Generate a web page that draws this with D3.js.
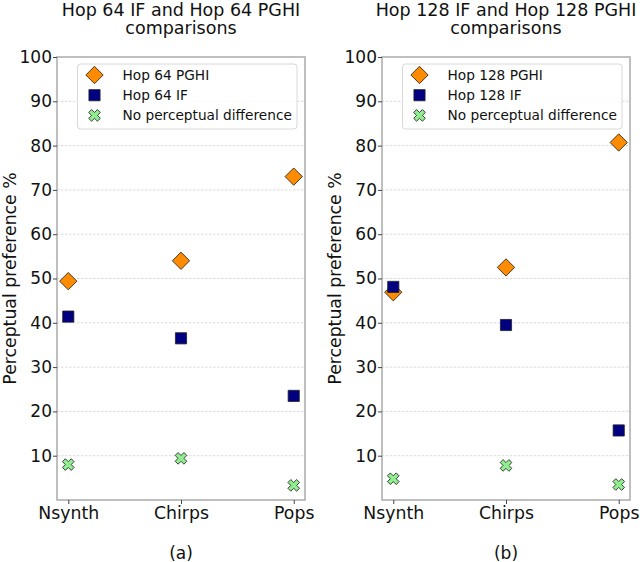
<!DOCTYPE html>
<html><head><meta charset="utf-8">
<script src="https://cdn.jsdelivr.net/npm/d3@7"></script>
<style>body{margin:0;background:#fff}svg{display:block}text{font-family:"DejaVu Sans",sans-serif}</style>
</head><body><svg id="c" width="640" height="562"></svg>
<script>
const categories = ["Nsynth", "Chirps", "Pops"];
const yTicks = [10, 20, 30, 40, 50, 60, 70, 80, 90, 100];
const titlesA = ["Hop 64 IF and Hop 64 PGHI", "comparisons"];
const titlesB = ["Hop 128 IF and Hop 128 PGHI", "comparisons"];
const seriesNamesA = ["Hop 64 PGHI", "Hop 64 IF", "No perceptual difference"];
const seriesNamesB = ["Hop 128 PGHI", "Hop 128 IF", "No perceptual difference"];
const pghiA = [49.4, 54.0, 73.0];
const ifA = [41.4, 36.5, 23.5];
const noDiffA = [8.0, 9.4, 3.3];
const pghiB = [46.9, 52.5, 80.7];
const ifB = [48.1, 39.5, 15.7];
const noDiffB = [4.8, 7.8, 3.5];
const captions = ["(a)", "(b)"];

const svg = d3.select("#c");
const colors = ["#ff8c00", "#000080", "#90ee90"];
const shapes = ["diamond", "square", "x"];

function marker(g, shape, color, x, y) {
  let p;
  if (shape === "diamond") {
    p = g.append("path").attr("d", d3.symbol(d3.symbolSquare, 150)())
      .attr("transform", `translate(${x},${y}) rotate(45)`);
  } else if (shape === "square") {
    p = g.append("path").attr("d", d3.symbol(d3.symbolSquare, 125)())
      .attr("transform", `translate(${x},${y})`);
  } else {
    p = g.append("path").attr("d", d3.symbol(d3.symbolCross, 85)())
      .attr("transform", `translate(${x},${y}) rotate(45)`);
  }
  p.attr("fill", color).attr("stroke", "#222").attr("stroke-width", 0.8);
}

function panel(x0, x1, titles, names, series, caption) {
  const top = 57, bottom = 500;
  const x = d3.scaleLinear().domain([-0.1, 2.1]).range([x0, x1]);
  const y = d3.scaleLinear().domain([0, 100]).range([bottom, top]);
  const g = svg.append("g");
  const cx = (x0 + x1) / 2;
  // grid
  g.selectAll(".grid").data(yTicks.filter(t => t < 100)).join("line")
    .attr("x1", x0).attr("x2", x1).attr("y1", d => y(d)).attr("y2", d => y(d))
    .attr("stroke", "#cfcfcf").attr("stroke-width", 0.8).attr("stroke-dasharray", "2.5,1.5");
  // frame
  g.append("rect").attr("x", x0).attr("y", top).attr("width", x1 - x0).attr("height", bottom - top)
    .attr("fill", "none").attr("stroke", "#b0b0b0").attr("stroke-width", 1.6);
  // y axis
  const ya = d3.axisLeft(y).tickValues(yTicks).tickSize(4).tickPadding(1);
  const yg = g.append("g").attr("transform", `translate(${x0},0)`).call(ya);
  yg.select(".domain").remove();
  yg.selectAll("line").attr("stroke", "#444");
  yg.selectAll("text").attr("font-size", 17).attr("fill", "#111").attr("font-family", "DejaVu Sans");
  // x axis
  const xa = d3.axisBottom(x).tickValues([0, 1, 2]).tickFormat(i => categories[i]).tickSize(4).tickPadding(3);
  const xg = g.append("g").attr("transform", `translate(0,${bottom})`).call(xa);
  xg.select(".domain").remove();
  xg.selectAll("line").attr("stroke", "#444");
  xg.selectAll("text").attr("font-size", 17.3).attr("fill", "#111").attr("font-family", "DejaVu Sans");
  // y label
  g.append("text").attr("transform", `translate(${x0 - 41.5},${(top + bottom) / 2}) rotate(-90)`)
    .attr("text-anchor", "middle").attr("font-size", 17.3).attr("fill", "#111").text("Perceptual preference %");
  // title
  g.append("text").attr("x", cx).attr("y", 15.5).attr("text-anchor", "middle").attr("font-size", 17.5).attr("fill", "#111").text(titles[0]);
  g.append("text").attr("x", cx).attr("y", 33.5).attr("text-anchor", "middle").attr("font-size", 17.5).attr("fill", "#111").text(titles[1]);
  // points
  series.forEach((vals, si) => {
    vals.forEach((v, i) => marker(g, shapes[si], colors[si], x(i), y(v)));
  });
  // legend
  const lx = x0 + 20.5, ly = 64;
  const lw = x1 - x0 - 28.5;
  g.append("rect").attr("x", lx).attr("y", ly).attr("width", lw).attr("height", 65).attr("rx", 3)
    .attr("fill", "#fff").attr("fill-opacity", 0.85).attr("stroke", "#d8d8d8").attr("stroke-width", 1);
  names.forEach((n, i) => {
    const yy = ly + 11 + i * 20.2;
    marker(g, shapes[i], colors[i], lx + 17, yy);
    g.append("text").attr("x", lx + 45).attr("y", yy + 5).attr("font-size", 13.7).attr("fill", "#111").text(n);
  });
  // caption
  g.append("text").attr("x", cx).attr("y", 558.5).attr("text-anchor", "middle").attr("font-size", 17).attr("fill", "#111").text(caption);
}

panel(57, 305, titlesA, seriesNamesA, [pghiA, ifA, noDiffA], captions[0]);
panel(382, 630, titlesB, seriesNamesB, [pghiB, ifB, noDiffB], captions[1]);
</script></body></html>
